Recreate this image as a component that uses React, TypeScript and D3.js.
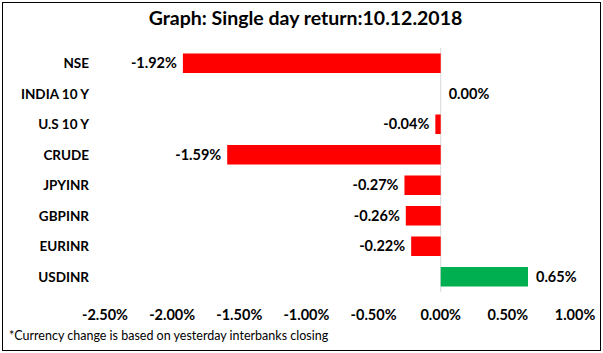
import React, { useEffect, useRef } from 'react';
import * as d3 from 'd3';

const categories = ['NSE', 'INDIA 10 Y', 'U.S 10 Y', 'CRUDE', 'JPYINR', 'GBPINR', 'EURINR', 'USDINR'];
const returns = [-1.92, 0.0, -0.04, -1.59, -0.27, -0.26, -0.22, 0.65];
const tickValues = [-2.5, -2.0, -1.5, -1.0, -0.5, 0.0, 0.5, 1.0];

const title = 'Graph: Single day return:10.12.2018';
const footnote = '*Currency change is based on yesterday interbanks closing';

export default function App() {
  const svgRef = useRef<SVGSVGElement>(null);

  useEffect(() => {
    if (!svgRef.current) return;
    const root = d3.select(svgRef.current);
    root.selectAll('*').remove();

    const W = 603;
    const H = 353;
    const font = 'Lato, "Open Sans", sans-serif';

    // Chart frame
    root.append('rect')
      .attr('x', 2.5).attr('y', 2.5)
      .attr('width', W - 5).attr('height', H - 5)
      .attr('fill', '#fff')
      .attr('stroke', '#000')
      .attr('stroke-width', 1);

    root.append('text')
      .attr('x', W / 2 + 4)
      .attr('y', 25)
      .attr('text-anchor', 'middle')
      .style('font-family', font)
      .style('font-weight', 700)
      .style('font-size', '19.5px')
      .attr('fill', '#000')
      .text(title);

    const x = d3.scaleLinear().domain([-2.5, 1.0]).range([105, 575]);
    const y = d3.scaleBand().domain(categories).range([48, 292]).paddingInner(0.36).paddingOuter(0.18);

    const rows = categories.map((c, i) => ({ cat: c, val: returns[i] }));

    // zero line
    root.append('line')
      .attr('x1', x(0)).attr('x2', x(0))
      .attr('y1', 48).attr('y2', 292)
      .attr('stroke', '#d9d9d9')
      .attr('stroke-width', 1);

    root.selectAll('.bar')
      .data(rows)
      .enter()
      .append('rect')
      .attr('class', 'bar')
      .attr('x', (d) => Math.min(x(d.val), x(0)))
      .attr('y', (d) => y(d.cat)!)
      .attr('width', (d) => Math.abs(x(d.val) - x(0)))
      .attr('height', y.bandwidth())
      .attr('fill', (d) => (d.val >= 0 ? '#00b050' : '#ff0000'));

    // value labels
    root.selectAll('.val')
      .data(rows)
      .enter()
      .append('text')
      .attr('class', 'val')
      .attr('x', (d) => (d.val < 0 ? x(d.val) - 6 : x(d.val) + 8))
      .attr('y', (d) => y(d.cat)! + y.bandwidth() / 2)
      .attr('dy', '0.36em')
      .attr('text-anchor', (d) => (d.val < 0 ? 'end' : 'start'))
      .style('font-family', font)
      .style('font-weight', 700)
      .style('font-size', '14.5px')
      .attr('fill', '#000')
      .text((d) => `${d.val.toFixed(2)}%`);

    // category labels
    root.selectAll('.cat')
      .data(rows)
      .enter()
      .append('text')
      .attr('class', 'cat')
      .attr('x', 89)
      .attr('y', (d) => y(d.cat)! + y.bandwidth() / 2)
      .attr('dy', '0.36em')
      .attr('text-anchor', 'end')
      .style('font-family', font)
      .style('font-weight', 700)
      .style('font-size', '13.5px')
      .attr('fill', '#000')
      .text((d) => d.cat);

    // x axis tick labels
    root.selectAll('.tick-label')
      .data(tickValues)
      .enter()
      .append('text')
      .attr('class', 'tick-label')
      .attr('x', (d) => x(d))
      .attr('y', 320)
      .attr('text-anchor', 'middle')
      .style('font-family', font)
      .style('font-weight', 700)
      .style('font-size', '14.5px')
      .attr('fill', '#000')
      .text((d) => `${d.toFixed(2)}%`);

    root.append('text')
      .attr('x', 9)
      .attr('y', 340)
      .style('font-family', font)
      .style('font-size', '12.5px')
      .attr('fill', '#000')
      .text(footnote);
  }, []);

  return (
    <svg
      ref={svgRef}
      width={603}
      height={353}
      style={{ position: 'fixed', left: 0, top: 0, display: 'block', background: '#fff' }}
    />
  );
}
